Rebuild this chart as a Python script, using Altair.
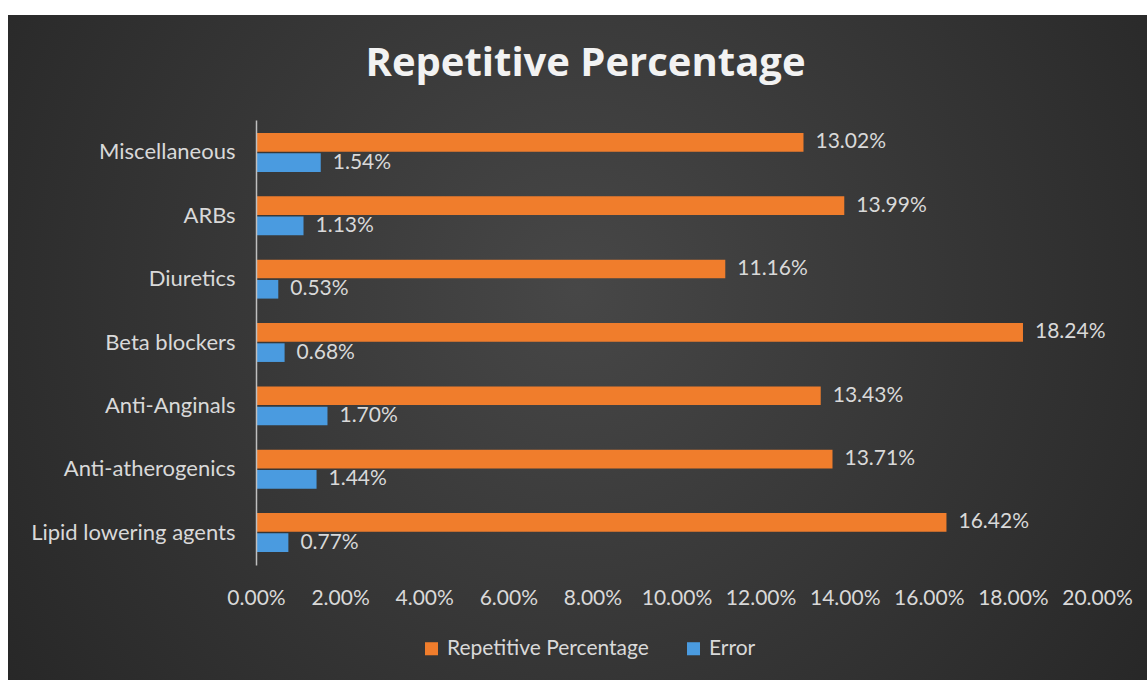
import altair as alt
import pandas as pd

categories = ["Miscellaneous", "ARBs", "Diuretics", "Beta blockers",
              "Anti-Anginals", "Anti-atherogenics", "Lipid lowering agents"]
repetitive = [13.02, 13.99, 11.16, 18.24, 13.43, 13.71, 16.42]
error = [1.54, 1.13, 0.53, 0.68, 1.70, 1.44, 0.77]
series = ["Repetitive Percentage", "Error"]
colors = ["#F07D2C", "#4A9BE0"]
x_ticks = [0, 0.02, 0.04, 0.06, 0.08, 0.10, 0.12, 0.14, 0.16, 0.18, 0.20]

rows = []
for c, r, e in zip(categories, repetitive, error):
    rows.append({"category": c, "series": series[0], "value": r / 100})
    rows.append({"category": c, "series": series[1], "value": e / 100})
df = pd.DataFrame(rows)

FONT = "Lato"
LABEL = "#d9d9d9"
FS = 21

bg = alt.Chart(pd.DataFrame({"k": [0]})).mark_rect(
    clip=False,
    fill=alt.Gradient(
        gradient="radial",
        x1=0.5, y1=0.45, r1=0.0,
        x2=0.5, y2=0.45, r2=0.75,
        stops=[alt.GradientStop(color="#474747", offset=0),
               alt.GradientStop(color="#202020", offset=1)],
    ),
).encode(x=alt.value(-248), x2=alt.value(891), y=alt.value(-105), y2=alt.value(560))

base = alt.Chart(df).encode(
    y=alt.Y("category:N", sort=categories, title=None,
            scale=alt.Scale(paddingInner=0.386, paddingOuter=0.205),
            axis=alt.Axis(domainColor="#bfbfbf", domainWidth=1.5, ticks=False,
                          labelPadding=21, labelFontSize=FS + 1, labelColor=LABEL,
                          labelFont=FONT, labelLimit=400, zindex=2)),
    yOffset=alt.YOffset("series:N", sort=series, scale=alt.Scale(paddingInner=0.08)),
    x=alt.X("value:Q", title=None,
            scale=alt.Scale(domain=[0, 0.2], nice=False),
            axis=alt.Axis(values=x_ticks, format=".2%", domain=False, ticks=False,
                          grid=False, labelPadding=22, labelFontSize=FS,
                          labelFlush=False, labelOverlap=False,
                          labelColor=LABEL, labelFont=FONT, zindex=2)),
)

bars = base.mark_bar(clip=False).encode(
    color=alt.Color("series:N", sort=series,
                    scale=alt.Scale(domain=series, range=colors),
                    legend=alt.Legend(title=None, orient="none", legendX=165, legendY=518,
                                      direction="horizontal", symbolType="square",
                                      symbolSize=170, symbolStrokeWidth=0,
                                      labelFontSize=FS, labelColor=LABEL, labelFont=FONT,
                                      labelLimit=400, labelOffset=5, columnPadding=34)),
)

labels = base.mark_text(align="left", baseline="middle", dx=12, fontSize=FS,
                        color=LABEL, font=FONT).encode(
    text=alt.Text("value:Q", format=".2%"),
)

chart = alt.layer(bg, bars, labels).properties(
    width=841, height=445,
    title=alt.TitleParams("Repetitive Percentage", anchor="middle", frame="group",
                          dx=-91, offset=-101, baseline="alphabetic",
                          fontSize=40, fontWeight="bold", font="Open Sans",
                          color="#f2f2f2"),
    autosize=alt.AutoSizeParams(type="none"),
    padding={"left": 256, "top": 120, "right": 50, "bottom": 115},
).configure(background="white").configure_view(stroke=None)

chart.save("out.html", embed_options={"renderer": "svg", "actions": False})
